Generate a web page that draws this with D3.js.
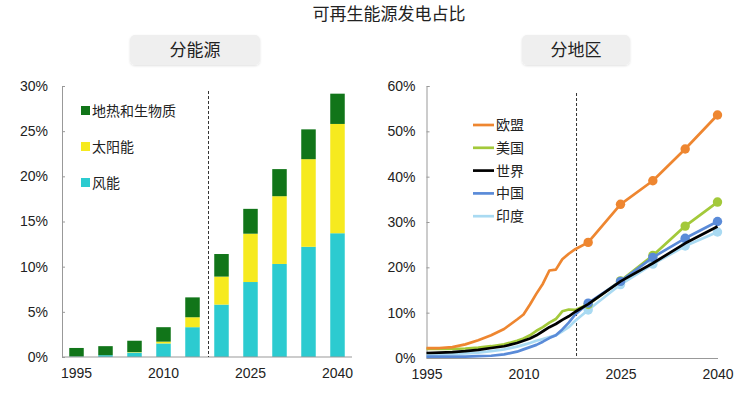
<!DOCTYPE html>
<html><head><meta charset="utf-8">
<script src="https://cdn.jsdelivr.net/npm/d3@7"></script>
<style>
body{margin:0;background:#fff;}
text{font-family:"Liberation Sans","Noto Sans CJK SC",sans-serif;fill:#222;}
.cjk{font-family:"Noto Sans CJK SC","Liberation Sans",sans-serif;}
</style></head>
<body><svg id="c" width="748" height="399"></svg>
<script>
// ---- Left chart data (share of generation, %) ----
const barYears = [1995, 2000, 2005, 2010, 2015, 2020, 2025, 2030, 2035, 2040];
const wind     = [0.05, 0.2, 0.5, 1.5, 3.3, 5.8, 8.3, 10.3, 12.2, 13.7];
const solar    = [0, 0, 0.05, 0.2, 1.1, 3.1, 5.35, 7.5, 9.7, 12.1];
const geoBio   = [0.95, 1.0, 1.25, 1.6, 2.2, 2.5, 2.75, 3.0, 3.3, 3.35];
const barSeriesNames = ["风能", "太阳能", "地热和生物质"];
const leftTicks = [0, 5, 10, 15, 20, 25, 30];
const leftXLabels = [1995, 2010, 2025, 2040];

// ---- Right chart data ----
const histYears = [1995, 1997, 1999, 2001, 2003, 2005, 2007, 2009, 2010, 2011, 2012, 2013, 2014, 2015, 2016, 2017, 2018];
const projYears = [2020, 2025, 2030, 2035, 2040];
const euHist    = [2.2, 2.2, 2.4, 3.0, 3.9, 5.0, 6.4, 8.5, 9.6, 11.8, 14.2, 16.4, 19.3, 19.5, 21.8, 23.0, 24.0];
const euProj    = [25.5, 33.9, 39.1, 46.1, 53.6];
const usHist    = [2.0, 2.0, 2.0, 2.1, 2.3, 2.6, 3.0, 3.8, 4.3, 5.0, 6.0, 6.8, 7.8, 8.6, 10.3, 10.7, 10.6];
const usProj    = [11.8, 17.0, 22.6, 29.1, 34.4];
const worldHist = [1.1, 1.2, 1.3, 1.5, 1.8, 2.2, 2.6, 3.3, 3.8, 4.3, 5.0, 5.9, 6.8, 7.5, 8.4, 9.2, 10.2];
const worldProj = [11.9, 16.9, 20.9, 25.3, 29.0];
const cnHist    = [0.3, 0.3, 0.3, 0.3, 0.4, 0.5, 0.8, 1.4, 1.9, 2.4, 2.9, 3.6, 4.4, 5.0, 6.3, 7.8, 9.6];
const cnProj    = [12.1, 16.9, 22.2, 26.4, 30.1];
const inHist    = [0.7, 0.8, 0.9, 1.0, 1.2, 1.5, 1.9, 2.5, 2.9, 3.3, 3.8, 4.2, 4.6, 5.0, 5.9, 6.8, 8.2];
const inProj    = [10.6, 16.2, 20.7, 24.7, 27.8];
const regionNames = ["欧盟", "美国", "世界", "中国", "印度"];
const rightTicks = [0, 10, 20, 30, 40, 50, 60];
const rightXLabels = [1995, 2010, 2025, 2040];

const svg = d3.select("#c");

// Title and pills
svg.append("text").attr("class","cjk").attr("x",389).attr("y",20).attr("text-anchor","middle")
  .attr("font-size",17).text("可再生能源发电占比");
const defs = svg.append("defs");
const f = defs.append("filter").attr("id","sh").attr("x","-10%").attr("y","-20%").attr("width","120%").attr("height","150%");
f.append("feDropShadow").attr("dx",0).attr("dy",1).attr("stdDeviation",1).attr("flood-color","#000").attr("flood-opacity",0.12);
[[130,260,"分能源"],[522,630,"分地区"]].forEach(([x0,x1,t])=>{
  svg.append("rect").attr("x",x0).attr("y",35).attr("width",x1-x0).attr("height",30).attr("rx",5)
    .attr("fill","#efefef").attr("filter","url(#sh)");
  svg.append("text").attr("class","cjk").attr("x",(x0+x1)/2).attr("y",56).attr("text-anchor","middle")
    .attr("font-size",17).text(t);
});

// ---------- Left chart ----------
const xL = d3.scaleBand().domain(barYears).range([62,352]).paddingInner(0.5).paddingOuter(0.25);
const yL = d3.scaleLinear().domain([0,30]).range([357,86]);
const gL = svg.append("g");
const barColors = ["#2ccbd0","#f6ea1f","#117519"];
const rows = barYears.map((y,i)=>({year:y, w:wind[i], s:solar[i], g:geoBio[i]}));
const stack = d3.stack().keys(["w","s","g"])(rows);
stack.forEach((layer,k)=>{
  gL.append("g").attr("fill",barColors[k]).selectAll("rect").data(layer).join("rect")
    .attr("x",d=>xL(d.data.year)).attr("width",xL.bandwidth())
    .attr("y",d=>yL(d[1])).attr("height",d=>Math.max(0,yL(d[0])-yL(d[1])));
});
// axes
const axLY = d3.axisLeft(yL).tickValues(leftTicks).tickSize(-3).tickPadding(14).tickFormat(d=>d+"%");
const gy = gL.append("g").attr("transform","translate(62,0)").call(axLY);
gy.select(".domain").attr("stroke","#999");
gy.selectAll(".tick line").attr("stroke","#999");
gy.selectAll("text").attr("font-size",14).attr("fill","#222");
const axLX = d3.axisBottom(xL).tickValues(leftXLabels).tickSize(0).tickPadding(11);
const gx = gL.append("g").attr("transform","translate(0,357)").call(axLX);
gx.select(".domain").attr("stroke","#999").attr("d","M62,0H352");
gx.selectAll("text").attr("font-size",14).attr("fill","#222");
// dashed divider between 2015 and 2020
const divL = (xL(2015)+xL.bandwidth()/2 + xL(2020)+xL.bandwidth()/2)/2 + 1.5;
gL.append("line").attr("x1",divL).attr("x2",divL).attr("y1",91).attr("y2",357)
  .attr("stroke","#333").attr("stroke-width",1).attr("stroke-dasharray","3,2");
// legend
[2,1,0].forEach((k,i)=>{
  const yy = 111 + i*36;
  gL.append("rect").attr("x",81).attr("y",yy-5).attr("width",9).attr("height",9).attr("fill",barColors[k]);
  gL.append("text").attr("class","cjk").attr("x",92).attr("y",yy+5).attr("font-size",14).text(barSeriesNames[k]);
});

// ---------- Right chart ----------
const xR = d3.scaleLinear().domain([1995,2040]).range([426.5,717.5]);
const yR = d3.scaleLinear().domain([0,60]).range([358,86]);
const gR = svg.append("g");
const axRY = d3.axisLeft(yR).tickValues(rightTicks).tickSize(-3).tickPadding(11).tickFormat(d=>d+"%");
const gry = gR.append("g").attr("transform","translate(426.5,0)").call(axRY);
gry.select(".domain").attr("stroke","#999");
gry.selectAll(".tick line").attr("stroke","#999");
gry.selectAll("text").attr("font-size",14).attr("fill","#222");
const axRX = d3.axisBottom(xR).tickValues(rightXLabels).tickSize(0).tickPadding(11).tickFormat(d3.format("d"));
const grx = gR.append("g").attr("transform","translate(0,358)").call(axRX);
grx.select(".domain").attr("stroke","#999");
grx.selectAll("text").attr("font-size",14).attr("fill","#222");
gR.append("line").attr("x1",xR(2018.2)).attr("x2",xR(2018.2)).attr("y1",93).attr("y2",358)
  .attr("stroke","#333").attr("stroke-width",1).attr("stroke-dasharray","3,2");

const regions = [
  {name:regionNames[4], c:"#a9daf2", h:inHist, p:inProj},
  {name:regionNames[1], c:"#a3c93a", h:usHist, p:usProj},
  {name:regionNames[0], c:"#ee8630", h:euHist, p:euProj},
  {name:regionNames[3], c:"#5a8bd8", h:cnHist, p:cnProj},
  {name:regionNames[2], c:"#000000", h:worldHist, p:worldProj},
];
const line = d3.line().x(d=>xR(d[0])).y(d=>yR(d[1]));
regions.forEach(r=>{
  const pts = histYears.map((y,i)=>[y,r.h[i]]).concat(projYears.map((y,i)=>[y,r.p[i]]));
  gR.append("path").attr("d",line(pts)).attr("fill","none").attr("stroke",r.c)
    .attr("stroke-width",2.7).attr("stroke-linejoin","round");
  if(r.c!=="#000000"){
    gR.append("g").selectAll("circle").data(projYears.map((y,i)=>[y,r.p[i]])).join("circle")
      .attr("cx",d=>xR(d[0])).attr("cy",d=>yR(d[1])).attr("r",4.7).attr("fill",r.c);
  }
});
// legend
const legOrder = [
  [regionNames[0],"#ee8630"],[regionNames[1],"#a3c93a"],[regionNames[2],"#000000"],
  [regionNames[3],"#5a8bd8"],[regionNames[4],"#a9daf2"]];
legOrder.forEach(([n,c],i)=>{
  const yy = 125 + i*22.8;
  gR.append("line").attr("x1",473).attr("x2",494).attr("y1",yy).attr("y2",yy).attr("stroke",c).attr("stroke-width",2.7);
  gR.append("text").attr("class","cjk").attr("x",496).attr("y",yy+5).attr("font-size",14).text(n);
});
</script></body></html>
